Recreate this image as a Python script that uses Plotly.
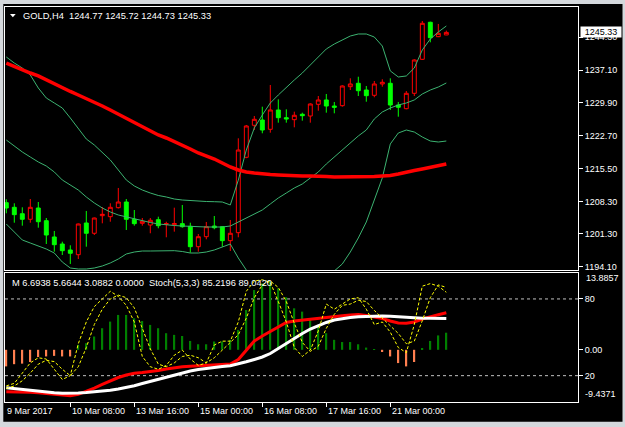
import plotly.graph_objects as go

# ---------------- data ----------------
bars = list(range(56))

opens = [1208.06, 1207.05, 1205.65, 1204.43, 1206.90, 1204.12, 1200.56, 1199.02, 1197.71, 1196.68,
         1203.62, 1201.37, 1205.22, 1205.00, 1206.97, 1208.21, 1204.43, 1203.55, 1203.18, 1204.34,
         1203.33, 1203.25, 1203.47, 1202.90, 1198.43, 1200.62, 1202.96, 1202.81, 1199.75, 1201.50,
         1218.00, 1225.00, 1226.16, 1224.12, 1228.35, 1226.66, 1226.23, 1227.41, 1227.03, 1229.59,
         1230.54, 1229.22, 1229.29, 1233.45, 1234.19, 1232.72, 1231.56, 1234.04, 1234.19, 1229.44,
         1228.63, 1232.00, 1239.44, 1247.54, 1244.39, 1244.77]
highs = [1208.81, 1207.93, 1207.05, 1208.87, 1208.21, 1204.71, 1201.87, 1199.53, 1198.74, 1203.50,
         1206.25, 1204.80, 1207.12, 1207.93, 1211.28, 1208.87, 1206.46, 1204.71, 1204.71, 1205.00,
         1203.90, 1206.97, 1207.56, 1203.68, 1201.21, 1203.84, 1205.15, 1202.96, 1204.28, 1222.15,
         1225.07, 1227.03, 1229.07, 1233.82, 1230.69, 1228.50, 1227.98, 1227.76, 1229.81, 1231.41,
         1231.85, 1230.10, 1233.75, 1235.28, 1235.63, 1233.60, 1234.69, 1235.07, 1235.28, 1230.10,
         1232.50, 1239.44, 1247.82, 1247.67, 1247.17, 1245.72]
lows = [1205.74, 1203.68, 1203.03, 1203.68, 1202.59, 1199.02, 1197.34, 1196.62, 1194.65, 1195.74,
        1198.43, 1200.99, 1203.55, 1203.90, 1206.80, 1202.09, 1203.03, 1203.03, 1201.37, 1202.46,
        1200.49, 1201.72, 1202.59, 1197.12, 1197.34, 1200.05, 1202.24, 1198.43, 1197.49, 1200.49,
        1217.80, 1223.97, 1223.25, 1223.38, 1225.57, 1225.57, 1224.56, 1226.01, 1225.57, 1228.19,
        1227.76, 1227.62, 1229.07, 1232.72, 1231.41, 1230.16, 1231.13, 1233.45, 1228.35, 1226.88,
        1228.50, 1231.41, 1239.29, 1243.16, 1244.30, 1244.73]
closes = [1206.90, 1205.44, 1204.43, 1207.05, 1203.90, 1200.99, 1198.87, 1197.56, 1196.99, 1203.40,
          1201.37, 1204.71, 1205.52, 1207.05, 1208.21, 1204.43, 1203.47, 1203.99, 1204.21, 1203.03,
          1203.47, 1203.50, 1202.81, 1198.43, 1200.62, 1202.81, 1202.59, 1199.75, 1201.37, 1219.59,
          1224.85, 1226.31, 1223.97, 1228.35, 1226.66, 1226.38, 1227.19, 1227.10, 1229.66, 1230.54,
          1229.22, 1228.94, 1233.60, 1234.04, 1232.57, 1231.48, 1234.04, 1234.41, 1229.44, 1228.94,
          1232.00, 1239.29, 1247.32, 1244.17, 1245.13, 1245.33]

ma_slow = [1238.63, 1237.87, 1237.10, 1236.44, 1235.79, 1234.91, 1234.04, 1233.16, 1232.40, 1231.63,
           1230.86, 1230.10, 1229.22, 1228.35, 1227.47, 1226.60, 1225.72, 1224.63, 1223.75, 1222.88,
           1222.22, 1221.45, 1220.69, 1219.81, 1218.94, 1218.28, 1217.62, 1216.75, 1215.87, 1215.22,
           1214.78, 1214.56, 1214.34, 1214.23, 1214.12, 1214.01, 1213.90, 1213.90, 1213.90, 1213.90,
           1213.79, 1213.69, 1213.69, 1213.69, 1213.69, 1213.69, 1213.79, 1213.90, 1214.01, 1214.34,
           1214.78, 1215.11, 1215.44, 1215.76, 1216.09, 1216.53]
bb_upper = [1239.95, 1238.63, 1237.54, 1236.01, 1233.16, 1230.97, 1229.88, 1228.78, 1226.60, 1224.41,
            1222.00, 1220.69, 1219.16, 1217.41, 1215.22, 1213.03, 1211.72, 1210.84, 1210.18, 1209.64,
            1209.31, 1208.87, 1208.65, 1208.50, 1208.43, 1208.32, 1208.28, 1208.21, 1207.56, 1213.00,
            1219.60, 1224.41, 1227.25, 1229.88, 1231.63, 1233.38, 1234.91, 1236.44, 1238.19, 1240.16,
            1241.70, 1242.79, 1243.67, 1244.54, 1244.98, 1244.98, 1244.32, 1242.35, 1236.90, 1235.57,
            1235.79, 1237.54, 1241.48, 1243.88, 1245.42, 1246.73]
bb_middle = [1221.78, 1220.47, 1219.16, 1218.06, 1216.97, 1216.09, 1214.78, 1213.03, 1211.93, 1210.84,
             1209.31, 1208.00, 1206.90, 1206.03, 1205.37, 1204.93, 1204.49, 1204.06, 1203.73, 1203.40,
             1203.18, 1203.07, 1202.96, 1202.85, 1202.74, 1202.74, 1202.74, 1202.74, 1202.96, 1203.84,
             1204.71, 1205.59, 1206.46, 1207.78, 1209.09, 1210.18, 1211.28, 1212.15, 1213.47, 1214.78,
             1216.53, 1218.06, 1219.59, 1221.13, 1222.66, 1223.97, 1226.38, 1227.91, 1228.78, 1229.44,
             1229.88, 1230.54, 1231.85, 1232.72, 1233.38, 1234.26]
bb_lower = [1203.40, 1201.65, 1199.90, 1199.24, 1198.59, 1197.93, 1197.05, 1195.08, 1193.77, 1193.55,
            1193.55, 1193.77, 1194.21, 1194.87, 1195.74, 1196.84, 1197.27, 1197.49, 1197.49, 1197.56,
            1197.60, 1197.56, 1197.38, 1197.05, 1197.05, 1197.27, 1197.71, 1198.37, 1199.02, 1195.96,
            1193.33, 1189.40, 1187.21, 1186.11, 1186.33, 1186.77, 1187.43, 1188.08, 1188.96, 1189.83,
            1191.36, 1193.12, 1194.65, 1197.27, 1200.34, 1203.84, 1208.65, 1213.47, 1220.91, 1223.31,
            1223.97, 1223.53, 1222.44, 1221.56, 1221.34, 1221.56]

macd_hist = [-3.0, -2.6, -2.5, -2.2, -1.3, -1.2, -1.1, -1.2, -1.2, 0.9,
             1.2, 2.4, 3.9, 5.1, 6.3, 6.3, 5.7, 5.2, 4.5, 3.9,
             3.0, 2.7, 2.5, 1.6, 1.0, 1.0, 1.5, 1.5, 1.8, 3.6,
             7.2, 10.8, 12.0, 12.3, 11.1, 9.5, 7.5, 6.9, 5.4, 4.5,
             3.0, 1.8, 1.4, 1.4, 1.0, 0.4, 0.05, -0.4, -1.2, -2.4,
             -3.0, -2.2, 0.3, 1.6, 2.6, 3.0882]
macd_red = [-7.58, -7.59, -7.63, -7.67, -7.78, -7.90, -8.05, -8.21, -8.30, -8.05,
            -7.54, -6.91, -6.27, -5.64, -5.01, -4.56, -4.25, -4.11, -3.98, -3.74,
            -3.47, -3.20, -3.06, -2.97, -2.88, -2.80, -2.75, -2.68, -2.57, -1.75,
            -0.04, 1.59, 2.50, 3.31, 4.21, 4.94, 5.21, 5.39, 5.57, 5.75,
            5.88, 6.02, 6.17, 6.29, 6.38, 6.20, 5.93, 5.66, 5.21, 4.85,
            4.79, 5.03, 5.57, 6.02, 6.35, 6.6938]
macd_white = [-6.85, -7.00, -7.14, -7.36, -7.54, -7.67, -7.78, -7.85, -7.87, -7.83,
              -7.74, -7.63, -7.50, -7.32, -7.09, -6.82, -6.49, -6.09, -5.70, -5.28,
              -4.86, -4.47, -4.14, -3.83, -3.56, -3.35, -3.16, -3.02, -2.89, -2.57,
              -2.17, -1.75, -1.30, -0.67, 0.24, 1.23, 2.13, 2.95, 3.76, 4.39,
              4.94, 5.39, 5.66, 5.84, 5.97, 6.04, 6.07, 6.11, 6.06, 5.97,
              5.75, 5.70, 5.70, 5.70, 5.69, 5.6644]
stoch_main = [12, 14, 22, 30, 34, 33, 25, 17, 20, 45,
              62, 74, 80, 86, 82, 75, 62, 35, 27, 25,
              28, 36, 40, 33, 28, 30, 44, 47, 47, 62,
              86, 94, 95, 93, 78, 62, 42, 35, 40, 55,
              76, 72, 76, 80, 81, 72, 60, 62, 54, 42,
              38, 60, 90, 92, 90, 85.2196]
stoch_signal = [10, 12, 16, 22, 29, 32, 31, 25, 20, 27,
                42, 60, 72, 80, 83, 81, 73, 57, 41, 29,
                27, 30, 35, 36, 34, 30, 34, 40, 46, 52,
                65, 81, 91, 94, 89, 78, 61, 46, 39, 43,
                57, 68, 75, 76, 79, 78, 71, 65, 59, 53,
                45, 47, 63, 81, 91, 89.0420]

price_ticks = [1244.30, 1237.10, 1229.90, 1222.70, 1215.50, 1208.30, 1201.30, 1194.10]
price_tick_text = ["1244.30", "1237.10", "1229.90", "1222.70", "1215.50", "1208.30", "1201.30", "1194.10"]
time_tick_pos = [0, 8, 16, 24, 32, 40, 48]
time_tick_text = ["9 Mar 2017", "10 Mar 08:00", "13 Mar 16:00", "15 Mar 00:00",
                  "16 Mar 08:00", "17 Mar 16:00", "21 Mar 00:00"]
last_price = 1245.33
title_text = "GOLD,H4\u00a0\u00a01244.77 1245.72 1244.73 1245.33"
sub_text = "M 6.6938 5.6644 3.0882 0.0000\u00a0\u00a0Stoch(5,3,3) 85.2196 89.0420"
macd_max, macd_min = 13.8857, -9.4371
stoch_levels = [80, 20]

# ---------------- figure ----------------
FONT = "Liberation Sans"
X_RANGE = [-0.1625, 71.46]
BAND = "#3CB371"

fig = go.Figure()

fig.add_trace(go.Candlestick(
    x=bars, open=opens, high=highs, low=lows, close=closes,
    increasing=dict(line=dict(color="#FF0000", width=1), fillcolor="#000000"),
    decreasing=dict(line=dict(color="#00FF00", width=1), fillcolor="#00FF00"),
    whiskerwidth=0, xaxis="x", yaxis="y", hoverinfo="skip"))

for series in (bb_upper, bb_middle, bb_lower):
    fig.add_trace(go.Scatter(x=bars, y=series, mode="lines",
                             line=dict(color=BAND, width=1), xaxis="x", yaxis="y"))
fig.add_trace(go.Scatter(x=bars, y=ma_slow, mode="lines",
                         line=dict(color="#FF0000", width=3.5), xaxis="x", yaxis="y"))

hist_pos = [v if v > 0 else None for v in macd_hist]
hist_neg = [v if v < 0 else None for v in macd_hist]
fig.add_trace(go.Bar(x=bars, y=hist_pos, width=0.22, marker=dict(color="#008000", line=dict(width=0)),
                     xaxis="x2", yaxis="y2"))
fig.add_trace(go.Bar(x=bars, y=hist_neg, width=0.22, marker=dict(color="#FF7F50", line=dict(width=0)),
                     xaxis="x2", yaxis="y2"))
fig.add_trace(go.Scatter(x=bars, y=macd_red, mode="lines", line=dict(color="#FF0000", width=3),
                         xaxis="x2", yaxis="y2"))
fig.add_trace(go.Scatter(x=bars, y=macd_white, mode="lines", line=dict(color="#FFFFFF", width=3),
                         xaxis="x2", yaxis="y2"))
for series in (stoch_main, stoch_signal):
    fig.add_trace(go.Scatter(x=bars, y=series, mode="lines",
                             line=dict(color="#FFFF00", width=1, dash="3px,2px"),
                             xaxis="x2", yaxis="y3"))

ax_common = dict(showgrid=False, zeroline=False, showline=True, mirror=True,
                 linecolor="#FFFFFF", linewidth=1, tickcolor="#FFFFFF", ticklen=4,
                 tickfont=dict(family=FONT, size=9, color="#FFFFFF"))

MAIN_BOTTOM = 0.3342
SUB_TOP = 0.3266

fig.update_layout(
    width=625, height=427,
    margin=dict(l=5, r=47, t=7, b=25, autoexpand=False),
    paper_bgcolor="#D4D8DC", plot_bgcolor="#000000",
    showlegend=False, hovermode=False, barmode="overlay",
    font=dict(family=FONT, size=9, color="#FFFFFF"),
    xaxis=dict(domain=[0, 1], anchor="y", range=X_RANGE, showticklabels=False, ticks="",
               rangeslider=dict(visible=False), **ax_common),
    yaxis=dict(domain=[MAIN_BOTTOM, 1], anchor="x", side="right", range=[1193.334, 1250.886],
               tickvals=price_ticks, ticktext=price_tick_text, ticks="outside", **ax_common),
    xaxis2=dict(domain=[0, 1], anchor="y2", range=X_RANGE, matches="x", showticklabels=False,
                ticks="outside", tickvals=time_tick_pos[1:], **ax_common),
    yaxis2=dict(domain=[0, SUB_TOP], anchor="x2", side="right", range=[macd_min, macd_max],
                tickvals=[0], ticktext=["0.00"], ticks="outside", **ax_common),
    yaxis3=dict(overlaying="y2", anchor="x2", side="right", range=[-0.6, 100.3],
                tickvals=stoch_levels, ticktext=[str(v) for v in stoch_levels], ticks="outside",
                showgrid=False, zeroline=False, showline=False, tickcolor="#FFFFFF", ticklen=4,
                tickfont=dict(family=FONT, size=9, color="#FFFFFF")),
)

shapes = [
    dict(type="rect", xref="paper", yref="paper", x0=-0.00297, x1=1.07766, y0=-0.04987, y1=1.00759,
         fillcolor="#000000", line=dict(width=0), layer="below"),
    dict(type="path", xref="paper", yref="paper",
         path="M 0.00873 0.98228 L 0.01867 0.98228 L 0.01370 0.97392 Z",
         fillcolor="#FFFFFF", line=dict(width=0)),
]
for lv in stoch_levels:
    shapes.append(dict(type="line", xref="x2", yref="y3", x0=X_RANGE[0], x1=X_RANGE[1], y0=lv, y1=lv,
                       line=dict(color="#C0C0C0", width=1, dash="3px,3px"), layer="below"))
fig.update_layout(shapes=shapes)

ann = [
    dict(xref="paper", yref="paper", x=0.0274, y=0.97848, xanchor="left", yanchor="middle",
         text=title_text, showarrow=False, font=dict(family=FONT, size=9.3, color="#FFFFFF")),
    dict(xref="paper", yref="paper", x=0.00873, y=0.30253, xanchor="left", yanchor="middle",
         text=sub_text, showarrow=False, font=dict(family=FONT, size=9.3, color="#FFFFFF")),
    dict(xref="paper", yref="paper", x=1.0105, y=0.31316, xanchor="left", yanchor="middle",
         text=f"{macd_max:.4f}", showarrow=False, font=dict(family=FONT, size=9, color="#FFFFFF")),
    dict(xref="paper", yref="paper", x=1.0082, y=0.01899, xanchor="left", yanchor="middle",
         text=f"{macd_min:.4f}", showarrow=False, font=dict(family=FONT, size=9, color="#FFFFFF")),
    dict(xref="paper", yref="y", x=1.0, y=last_price, xanchor="left", yanchor="middle", xshift=1.5,
         text=f"{last_price:.2f}", showarrow=False, bgcolor="#FFFFFF", borderpad=0, width=40, height=10,
         font=dict(family=FONT, size=9, color="#000000")),
]
for pos, txt in zip(time_tick_pos, time_tick_text):
    ann.append(dict(xref="x2", yref="paper", x=max(pos, X_RANGE[0]), y=-0.02405,
                    xanchor="left", yanchor="middle", text=txt, showarrow=False,
                    xshift=(-1 if pos == 0 else 0),
                    font=dict(family=FONT, size=9, color="#FFFFFF")))
fig.update_layout(annotations=ann)

fig.write_html("out.html", config={"displayModeBar": False},
               post_script="document.body.style.margin='0';document.body.style.overflow='hidden';")
